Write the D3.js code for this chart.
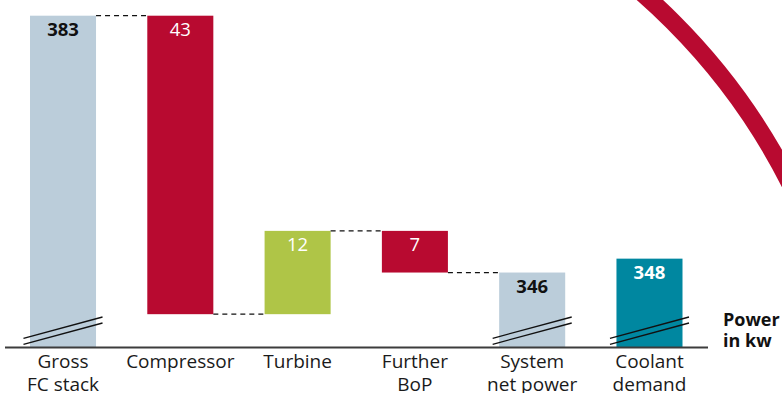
<!DOCTYPE html>
<html>
<head>
<meta charset="utf-8">
<script src="https://cdn.jsdelivr.net/npm/d3@7"></script>
<style>
  html, body { margin: 0; padding: 0; background: #fff; }
  svg { display: block; }
  text { font-family: "Open Sans", "Noto Sans", sans-serif; }
</style>
</head>
<body>
<svg id="chart" width="782" height="393"></svg>
<script>
// ---- data ----
const categories = ["Gross FC stack", "Compressor", "Turbine", "Further BoP", "System net power", "Coolant demand"];
const categoryLines = [["Gross", "FC stack"], ["Compressor"], ["Turbine"], ["Further", "BoP"], ["System", "net power"], ["Coolant", "demand"]];
const valueLabels = ["383", "43", "12", "7", "346", "348"];
const barTop = [383, 383, 352, 352, 346, 348];
const barBottom = [null, 340, 340, 346, null, null]; // null: bar starts at the broken axis
const barKind = ["total", "decrease", "increase", "decrease", "total", "coolant"];
const axisFloor = 335.2; // value at the (broken) baseline
const unitLabel = ["Power", "in kw"];

// ---- styles ----
const colors = { total: "#bbcdda", decrease: "#b80a30", increase: "#afc547", coolant: "#0087a0" };
const labelColors = { total: "#111", decrease: "#fff", increase: "#fff", coolant: "#fff" };
const labelBold = { total: true, decrease: false, increase: false, coolant: true };

const svg = d3.select("#chart");
const baseY = 347.5;

const x = d3.scaleBand().domain(categories).range([30, 682.5]).paddingInner(0.437).paddingOuter(0);
const y = d3.scaleLinear().domain([axisFloor, 383]).range([baseY, 15.7]);

// decorative arc
svg.append("circle")
  .attr("cx", 228).attr("cy", 467).attr("r", 629.4)
  .attr("fill", "none").attr("stroke", "#b80a30").attr("stroke-width", 17.7);

const data = categories.map((c, i) => ({
  cat: c, lines: categoryLines[i], label: valueLabels[i], top: barTop[i],
  bottom: barBottom[i] == null ? axisFloor : barBottom[i], kind: barKind[i]
}));

// bars
svg.selectAll("rect.bar").data(data).enter().append("rect")
  .attr("class", "bar")
  .attr("x", d => x(d.cat))
  .attr("width", x.bandwidth())
  .attr("y", d => y(d.top))
  .attr("height", d => y(d.bottom) - y(d.top))
  .attr("fill", d => colors[d.kind]);

// connectors
function endLevel(d) { return d.kind === "decrease" ? d.bottom : d.top; }
const conns = [];
for (let i = 0; i < data.length - 1; i++) {
  if (data[i + 1].kind === "coolant") continue;
  conns.push({ x1: x(data[i].cat) + x.bandwidth(), x2: x(data[i + 1].cat), v: endLevel(data[i]) });
}
svg.selectAll("line.conn").data(conns).enter().append("line")
  .attr("x1", d => d.x1).attr("x2", d => d.x2)
  .attr("y1", d => y(d.v)).attr("y2", d => y(d.v))
  .attr("stroke", "#111").attr("stroke-width", 1.3).attr("stroke-dasharray", "5,4");

// break marks on bars that start at the broken axis
const breaks = data.filter(d => barBottom[categories.indexOf(d.cat)] == null);
[0, 6].forEach(off => {
  svg.selectAll("line.brk" + off).data(breaks).enter().append("line")
    .attr("x1", d => x(d.cat) - 6.5).attr("x2", d => x(d.cat) + x.bandwidth() + 6.5)
    .attr("y1", d => baseY - 9.2 + off).attr("y2", d => baseY - 30.5 + off)
    .attr("stroke", "#111").attr("stroke-width", 1.3);
});

// baseline
svg.append("line").attr("x1", 5).attr("x2", 708).attr("y1", baseY).attr("y2", baseY)
  .attr("stroke", "#3c3c3c").attr("stroke-width", 2);

// value labels
svg.selectAll("text.val").data(data).enter().append("text")
  .attr("x", d => x(d.cat) + x.bandwidth() / 2)
  .attr("y", d => y(d.top) + 20)
  .attr("text-anchor", "middle")
  .attr("font-size", 18.5)
  .attr("font-weight", d => labelBold[d.kind] ? 700 : 400)
  .attr("fill", d => labelColors[d.kind])
  .text(d => d.label);

// category labels
const cl = svg.selectAll("text.cat").data(data).enter().append("text")
  .attr("text-anchor", "middle").attr("font-size", 19).attr("fill", "#1a1a1a");
cl.selectAll("tspan").data(d => d.lines.map(l => ({ l, cx: x(d.cat) + x.bandwidth() / 2 }))).enter()
  .append("tspan")
  .attr("x", d => d.cx)
  .attr("y", (d, i) => 368 + i * 23)
  .text(d => d.l);

// unit label
svg.append("text").attr("font-size", 18).attr("font-weight", 700).attr("fill", "#111")
  .selectAll("tspan").data(unitLabel).enter().append("tspan")
  .attr("x", 723).attr("y", (d, i) => 326 + i * 21).text(d => d);
</script>
</body>
</html>
